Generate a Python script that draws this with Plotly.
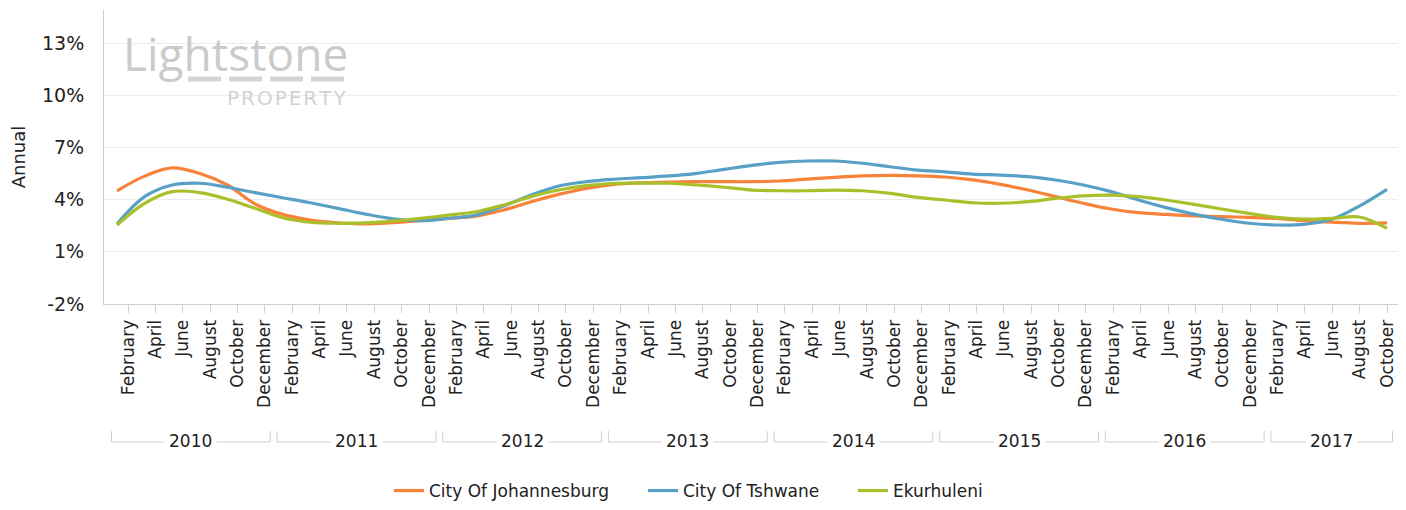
import plotly.graph_objects as go

years = ["2010", "2011", "2012", "2013", "2014", "2015", "2016", "2017"]
months = ["February", "April", "June", "August", "October", "December"]
month_labels = [m for y in years[:-1] for m in months] + months[:5]

johannesburg = [4.5, 5.35, 5.82, 5.5, 4.84, 3.75, 3.15, 2.83, 2.67, 2.6, 2.67, 2.79,
                2.92, 3.05, 3.4, 3.88, 4.3, 4.65, 4.88, 4.97, 5.0, 5.03, 5.03, 5.03,
                5.07, 5.18, 5.28, 5.36, 5.39, 5.37, 5.3, 5.13, 4.88, 4.55, 4.17, 3.79,
                3.46, 3.25, 3.15, 3.07, 3.02, 2.98, 2.92, 2.79, 2.7, 2.64, 2.66]
tshwane = [2.6, 4.17, 4.84, 4.94, 4.71, 4.4, 4.11, 3.82, 3.5, 3.17, 2.9, 2.79,
           2.92, 3.11, 3.63, 4.26, 4.78, 5.03, 5.17, 5.26, 5.36, 5.51, 5.74, 5.97,
           6.14, 6.22, 6.22, 6.09, 5.89, 5.7, 5.6, 5.47, 5.41, 5.32, 5.13, 4.84,
           4.46, 3.98, 3.54, 3.17, 2.87, 2.64, 2.54, 2.58, 2.87, 3.63, 4.59]
ekurhuleni = [2.54, 3.79, 4.46, 4.4, 4.02, 3.5, 2.96, 2.7, 2.64, 2.66, 2.77, 2.92,
              3.11, 3.3, 3.69, 4.17, 4.55, 4.8, 4.94, 4.95, 4.94, 4.84, 4.71, 4.55,
              4.51, 4.51, 4.55, 4.51, 4.36, 4.13, 3.98, 3.82, 3.79, 3.88, 4.07, 4.22,
              4.26, 4.17, 3.98, 3.73, 3.46, 3.21, 2.98, 2.88, 2.92, 3.0, 2.35]

y_ticks = [-2, 1, 4, 7, 10, 13]
y_ticktext = [f"{v}%" for v in y_ticks]

series = [("City Of Johannesburg", johannesburg, "#F7823A"),
          ("City Of Tshwane", tshwane, "#58A0C6"),
          ("Ekurhuleni", ekurhuleni, "#A9C02B")]

FONT = "DejaVu Sans"
TXT = "#222222"

# page body has an 8px default margin on every side; work in page pixels
OFF = 8
W, H = 1406 - 2 * OFF, 510 - 2 * OFF
PL, PT, PB, PR = 104, 10, 304, 1398  # plot area in page pixels

x = list(range(len(month_labels)))
n = len(month_labels)
FIRST_PT, LAST_PT = 117, 1387
UNIT = (LAST_PT - FIRST_PT) / (n - 1)
XR = [(PL - FIRST_PT) / UNIT, (n - 1) + (PR - LAST_PT) / UNIT]


def px_x(p):
    return (p - PL) / (PR - PL)


def px_y(p):
    return (PB - p) / (PB - PT)


def px_to_data(p):
    return (p - FIRST_PT) / UNIT


legend_starts = [395, 649, 859]
legend_names = ["legend", "legend2", "legend3"]

fig = go.Figure()
for (name, vals, col), lg in zip(series, legend_names):
    fig.add_trace(go.Scatter(x=x, y=vals, name=name, mode="lines", legend=lg,
                             line=dict(color=col, width=3.2, shape="spline", smoothing=1.0)))

label_step = (1387 - 128) / (n - 1)
tickvals = [px_to_data(128 + label_step * i) for i in x]

shapes = []
annotations = []
for k, yr in enumerate(years):
    x0 = 6 * k - 0.2
    x1 = min(6 * k + 5.55, n - 0.8)
    ylow, yhigh = px_y(442), px_y(431)
    for (a, b, c, d) in [(x0, x1, ylow, ylow), (x0, x0, ylow, yhigh), (x1, x1, ylow, yhigh)]:
        shapes.append(dict(type="line", xref="x", yref="paper", x0=a, x1=b, y0=c, y1=d,
                           line=dict(color="#d0d0d0", width=1)))
    annotations.append(dict(xref="x", yref="paper", x=(x0 + x1) / 2, y=px_y(441), text=yr,
                            showarrow=False, bgcolor="white", borderpad=4,
                            font=dict(family=FONT, size=17, color=TXT),
                            xanchor="center", yanchor="middle"))

# watermark
HS = "\u200a"
annotations.append(dict(xref="paper", yref="paper", x=px_x(235), y=px_y(53), text="Lightstone",
                        showarrow=False, xanchor="center", yanchor="middle",
                        font=dict(family="Open Sans", size=46, color="#cbcbcb")))
annotations.append(dict(xref="paper", yref="paper", x=px_x(286), y=px_y(98),
                        text=HS.join("PROPERTY"),
                        showarrow=False, xanchor="center", yanchor="middle",
                        font=dict(family=FONT, size=20, color="#d2d2d2")))
shapes.append(dict(type="line", xref="paper", yref="paper", x0=px_x(188), x1=px_x(346),
                   y0=px_y(79), y1=px_y(79), line=dict(color="#d5d5d5", width=5, dash="33px,8px")))

layout_legends = {}
for lg, start in zip(legend_names, legend_starts):
    layout_legends[lg] = dict(orientation="h", x=px_x(start - 6), xanchor="left",
                              y=px_y(491), yanchor="middle", bgcolor="rgba(0,0,0,0)",
                              font=dict(family=FONT, size=17, color=TXT), itemwidth=30)

fig.update_layout(
    width=W, height=H,
    margin=dict(l=PL - OFF, r=W - (PR - OFF), t=PT - OFF, b=H - (PB - OFF), autoexpand=False),
    paper_bgcolor="white", plot_bgcolor="white",
    font=dict(family=FONT, size=17, color=TXT),
    showlegend=True,
    shapes=shapes, annotations=annotations,
    **layout_legends,
)
fig.update_xaxes(range=XR, tickmode="array", automargin=False,
                 tickvals=tickvals, ticktext=month_labels, tickangle=-90,
                 ticks="outside", ticklen=8, tickcolor="#d0d0d0", showgrid=False,
                 showline=True, linecolor="#d0d0d0", linewidth=1, zeroline=False,
                 tickfont=dict(family=FONT, size=17, color=TXT))
fig.update_yaxes(range=[-2, 14.9], tickmode="array", tickvals=y_ticks, ticktext=y_ticktext,
                 automargin=False,
                 showgrid=True, gridcolor="#ececec", gridwidth=1, zeroline=False,
                 showline=True, linecolor="#d0d0d0", linewidth=1, ticks="outside",
                 ticklen=15, tickcolor="rgba(0,0,0,0)",
                 title=dict(text="Annual", font=dict(family=FONT, size=18, color=TXT), standoff=12),
                 tickfont=dict(family=FONT, size=19, color=TXT))

fig.write_html("out.html")
